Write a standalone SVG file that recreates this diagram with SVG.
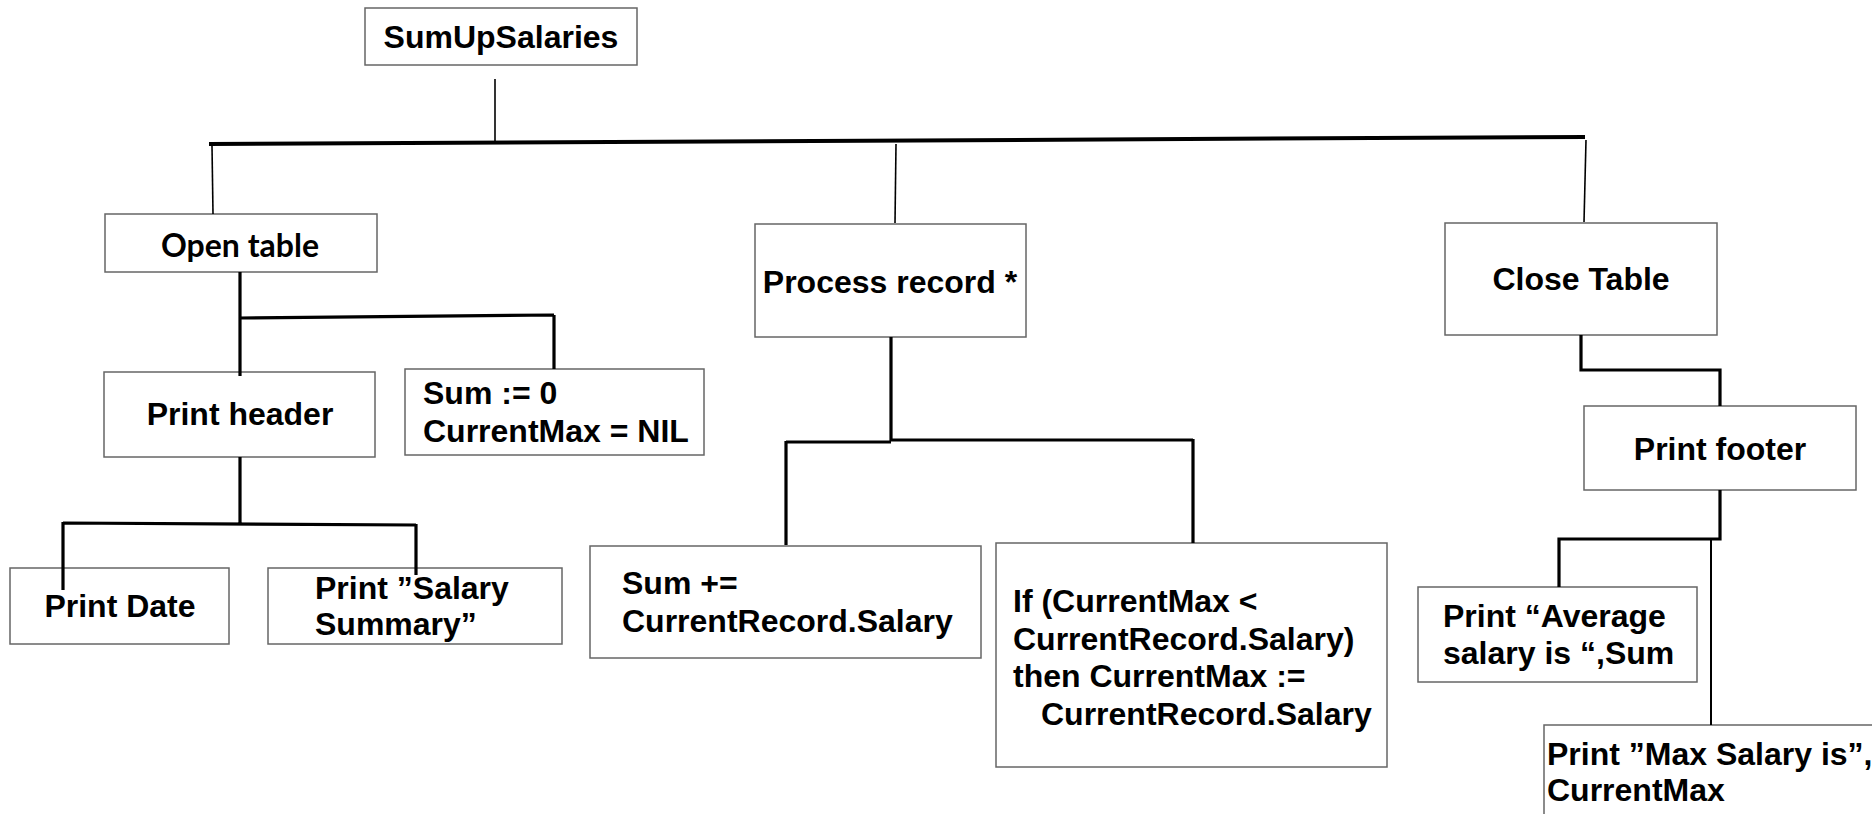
<svg xmlns="http://www.w3.org/2000/svg" width="1872" height="814" viewBox="0 0 1872 814">
<style>
.box{fill:#fff;stroke:#666;stroke-width:1.5}
.t{font-family:"Liberation Sans",Arial,sans-serif;font-weight:bold;font-size:32px;fill:#000}
.c{text-anchor:middle}
.lato{font-family:Lato,"Liberation Sans",sans-serif;font-weight:bold;font-size:32px;fill:#000}
.thin{fill:none;stroke:#000;stroke-width:1.6}
.thick{fill:none;stroke:#000;stroke-width:3.2}
.bar{fill:none;stroke:#000;stroke-width:4}
</style>
<rect width="1872" height="814" fill="#fff"/>
<g id="root">
<rect class="box" x="365" y="8" width="272" height="57"/>
<text class="t c" x="501" y="48">SumUpSalaries</text>
</g>
<g id="open-table">
<rect class="box" x="105" y="214" width="272" height="58"/>
<text class="lato c" x="240" y="257">Open table</text>
</g>
<g id="process-record">
<rect class="box" x="755" y="224" width="271" height="113"/>
<text class="t c" x="890" y="293">Process record *</text>
</g>
<g id="close-table">
<rect class="box" x="1445" y="223" width="272" height="112"/>
<text class="t c" x="1581" y="290">Close Table</text>
</g>
<g id="print-header">
<rect class="box" x="104" y="372" width="271" height="85"/>
<text class="t c" x="240" y="425">Print header</text>
</g>
<g id="init">
<rect class="box" x="405" y="369" width="299" height="86"/>
<text class="t" x="423" y="404">Sum := 0</text>
<text class="t" x="423" y="442">CurrentMax = NIL</text>
</g>
<g id="print-date">
<rect class="box" x="10" y="568" width="219" height="76"/>
<text class="t c" x="120" y="617">Print Date</text>
</g>
<g id="print-summary">
<rect class="box" x="268" y="568" width="294" height="76"/>
<text class="t" x="315" y="599">Print ”Salary</text>
<text class="t" x="315" y="635">Summary”</text>
</g>
<g id="sum-add">
<rect class="box" x="590" y="546" width="391" height="112"/>
<text class="t" x="622" y="594">Sum +=</text>
<text class="t" x="622" y="632">CurrentRecord.Salary</text>
</g>
<g id="if-max">
<rect class="box" x="996" y="543" width="391" height="224"/>
<text class="t" x="1013" y="612">If (CurrentMax &lt;</text>
<text class="t" x="1013" y="650">CurrentRecord.Salary)</text>
<text class="t" x="1013" y="687">then CurrentMax :=</text>
<text class="t" x="1041" y="725">CurrentRecord.Salary</text>
</g>
<g id="print-footer">
<rect class="box" x="1584" y="406" width="272" height="84"/>
<text class="t c" x="1720" y="460">Print footer</text>
</g>
<g id="print-average">
<rect class="box" x="1418" y="587" width="279" height="95"/>
<text class="t" x="1443" y="627">Print “Average</text>
<text class="t" x="1443" y="664">salary is “,Sum</text>
</g>
<g id="print-max">
<rect class="box" x="1544" y="725" width="340" height="100"/>
<text class="t" x="1547" y="765">Print ”Max Salary is”,</text>
<text class="t" x="1547" y="801">CurrentMax</text>
</g>
<g id="connectors">
<line class="thin" x1="495" y1="79" x2="495" y2="142"/>
<line class="bar" x1="209" y1="144" x2="1585" y2="137"/>
<line class="thin" x1="212" y1="146" x2="213" y2="214"/>
<line class="thin" x1="896" y1="144" x2="895" y2="223"/>
<line class="thin" x1="1586" y1="140" x2="1584" y2="222"/>
<path class="thick" d="M240,272 V376 M240,318 L554,315 M554,315 V369"/>
<path class="thick" d="M240,457 V523 M63,523 L416,525 M63,522 V590 M416,524 V575"/>
<path class="thick" d="M891,337 V441 M786,442 H891 M891,440 H1193 M786,441 V545 M1193,439 V543"/>
<path class="thick" d="M1581,335 V370 H1720 V406"/>
<path class="thick" d="M1720,490 V539 H1559 V587"/>
<line class="thin" x1="1711" y1="540" x2="1711" y2="725" style="stroke-width:2"/>
</g>
</svg>
